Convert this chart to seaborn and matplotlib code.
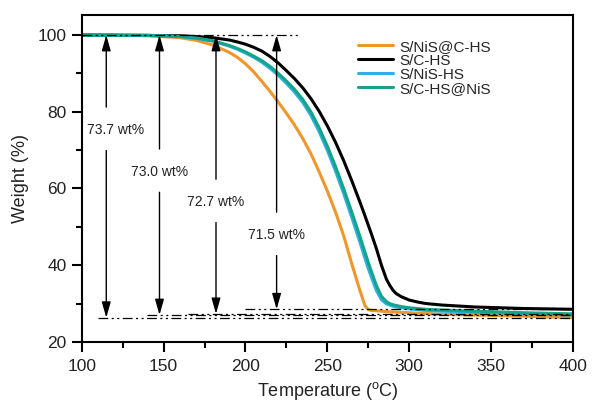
import numpy as np
import pandas as pd
import matplotlib
matplotlib.use("Agg")
import matplotlib.pyplot as plt
from matplotlib.ticker import AutoMinorLocator, MultipleLocator
import seaborn as sns

# TGA data: weight (%) vs temperature (°C)
temperature = [100, 140, 160, 170, 180, 190, 195, 200, 205, 210, 215, 220, 225,
               230, 235, 240, 245, 250, 255, 260, 265, 270, 273, 275, 277, 280,
               283, 286, 288, 290, 292, 295, 300, 305, 310, 320, 340, 370, 400]

w_nis_c_hs = [100, 99.8, 99.3, 98.6, 97.4, 95.5, 94.2, 92.5, 90.4, 87.9, 85.3,
              82.5, 79.6, 76.5, 73.0, 69.0, 64.3, 59.3, 53.8, 47.6, 40.2, 33.2,
              29.4, 28.4, 28.2, 28.1, 28.0, 27.9, 27.85, 27.8, 27.75, 27.7,
              27.6, 27.5, 27.4, 27.2, 27.0, 26.7, 26.3]
w_c_hs = [100, 99.9, 99.8, 99.6, 99.3, 98.7, 98.2, 97.6, 96.8, 95.8, 94.4,
          92.7, 90.7, 88.6, 86.2, 83.4, 80.1, 76.3, 72.0, 67.2, 61.9, 56.3,
          52.8, 50.4, 48.0, 44.2, 40.0, 36.4, 34.8, 33.5, 32.6, 31.8, 30.9,
          30.4, 30.0, 29.6, 29.1, 28.7, 28.5]
w_nis_hs = [100, 99.9, 99.6, 99.1, 98.4, 97.1, 96.3, 95.3, 94.2, 92.9, 91.3,
            89.5, 87.4, 85.1, 82.4, 79.0, 74.8, 69.9, 64.5, 58.6, 52.3, 45.8,
            41.7, 39.1, 36.7, 33.3, 31.0, 29.9, 29.6, 29.3, 29.1, 28.9, 28.6,
            28.4, 28.2, 28.0, 27.7, 27.3, 27.0]
w_c_hs_nis = [100, 99.9, 99.6, 99.2, 98.5, 97.3, 96.5, 95.6, 94.5, 93.3, 91.8,
              90.0, 88.0, 85.8, 83.2, 79.9, 75.8, 71.0, 65.7, 59.9, 53.7, 47.3,
              43.3, 40.7, 38.2, 34.6, 31.9, 30.5, 30.0, 29.7, 29.5, 29.2, 28.9,
              28.7, 28.5, 28.3, 28.0, 27.6, 27.3]

samples = ["S/NiS@C-HS", "S/C-HS", "S/NiS-HS", "S/C-HS@NiS"]
colors = ["#F0962A", "#000000", "#2EB0E2", "#16A387"]

# sulfur content for each sample (wt%)
sulfur_content = [73.7, 73.0, 72.7, 71.5]

sns.set_theme(style="ticks")
plt.rcParams["font.family"] = ["Liberation Sans", "DejaVu Sans"]
plt.rcParams["mathtext.fontset"] = "custom"
plt.rcParams["mathtext.rm"] = "Liberation Sans"
plt.rcParams["lines.scale_dashes"] = False

df = pd.DataFrame({
    "Temperature": np.tile(temperature, 4),
    "Weight": np.concatenate([w_nis_c_hs, w_c_hs, w_nis_hs, w_c_hs_nis]),
    "Sample": np.repeat(samples, len(temperature)),
})

fig = plt.figure(figsize=(5.92, 4.07), dpi=100)
ax = fig.add_axes([0.138, 0.16, 0.830, 0.803])

sns.lineplot(data=df, x="Temperature", y="Weight", hue="Sample",
             hue_order=samples, palette=colors, linewidth=2.2,
             estimator=None, sort=False, ax=ax)

ax.set_xlim(100, 400)
ax.set_ylim(20, 105.2)
ax.xaxis.set_major_locator(MultipleLocator(50))
ax.yaxis.set_major_locator(MultipleLocator(20))
ax.xaxis.set_minor_locator(AutoMinorLocator(2))
ax.yaxis.set_minor_locator(AutoMinorLocator(2))
ax.tick_params(which="major", direction="out", length=7, width=1.5,
               labelsize=12.5, color="black", labelcolor="#222222", pad=4)
ax.tick_params(axis="x", which="major", pad=5)
ax.tick_params(which="minor", direction="out", length=4.5, width=1.5,
               color="black")
for sp in ax.spines.values():
    sp.set_linewidth(1.5)
    sp.set_color("black")
    sp.set_visible(True)

ax.set_xlabel(r"Temperature ($^{\mathregular{o}}$C)", fontsize=13,
              color="#222222", labelpad=5)
ax.set_ylabel("Weight (%)", fontsize=13, color="#222222", labelpad=6)

# dash-dot-dot reference lines
dashdotdot = (0, (7, 2.5, 1.5, 2.5, 1.5, 2.5))
ax.plot([100, 233], [100, 100], color="black", lw=0.9, linestyle=dashdotdot)

arrow_x = [115, 147.5, 182, 219]
line_start = [110, 140, 165, 200]
label_y = [75.2, 64.3, 56.4, 47.8]
label_dx = [5.5, 0, 0, 0]

for content, x, xs, ly, dx in zip(sulfur_content, arrow_x, line_start,
                                  label_y, label_dx):
    residue = 100 - content
    ax.plot([xs, 400], [residue, residue], color="black", lw=0.9,
            linestyle=dashdotdot)
    arrow = dict(arrowstyle="-|>,head_length=0.95,head_width=0.27",
                 mutation_scale=10, color="black", lw=1.0,
                 shrinkA=0, shrinkB=0)
    ax.annotate("", xy=(x, 100), xytext=(x, ly + 6.0), arrowprops=arrow)
    ax.annotate("", xy=(x, residue), xytext=(x, ly - 5.3), arrowprops=arrow)
    ax.text(x + dx, ly, f"{content:.1f} wt%", ha="center", va="center",
            fontsize=10, color="#222222")

handles, labels = ax.get_legend_handles_labels()
ax.legend(handles, labels, loc="upper left", bbox_to_anchor=(0.562, 0.925),
          frameon=False, fontsize=11, handlelength=2.3, handletextpad=0.4,
          labelspacing=0.0, borderpad=0, borderaxespad=0)

fig.savefig("out.png", dpi=100)
